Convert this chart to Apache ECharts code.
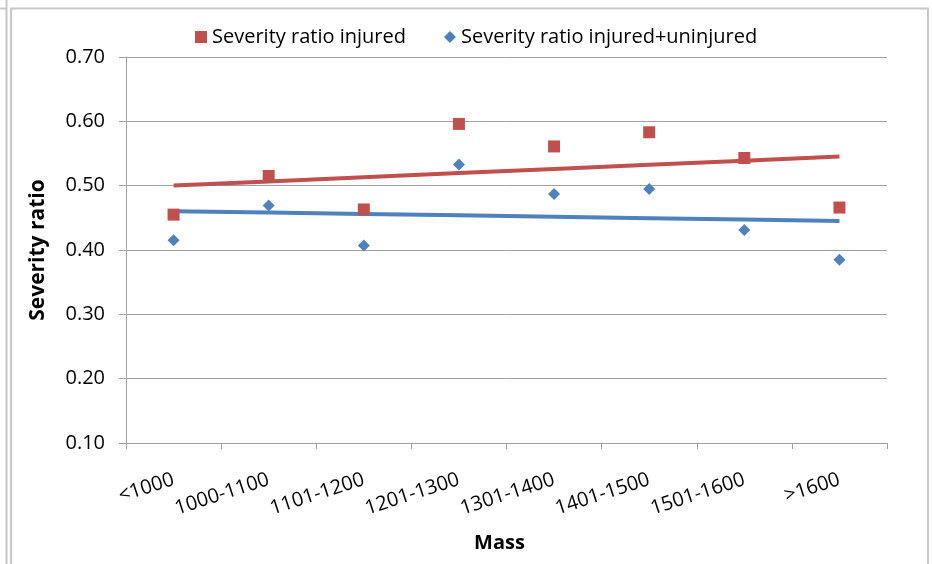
<!DOCTYPE html>
<html lang="en">
<head>
    <meta charset="UTF-8">
    <title>Severity ratio by mass</title>
    <style>
       html, body { margin: 0; padding: 0; background: #fff; }
       #main { width: 932px; height: 564px; }
    </style>
</head>
<body>
    <div id="main"></div>
    <script src="https://cdn.jsdelivr.net/npm/echarts@6/dist/echarts.min.js"></script>
    <script>
        var categories = ['<1000', '1000-1100', '1101-1200', '1201-1300', '1301-1400', '1401-1500', '1501-1600', '>1600'];
        var injured = [0.455, 0.515, 0.463, 0.596, 0.561, 0.583, 0.543, 0.466];
        var injuredUninjured = [0.415, 0.469, 0.407, 0.533, 0.487, 0.495, 0.431, 0.385];
        var yTicks = { min: 0.1, max: 0.7, step: 0.1 };

        // linear trend line (least squares over category index)
        function trend(vals) {
            var n = vals.length, mx = 0, my = 0, sxy = 0, sxx = 0;
            for (var i = 0; i < n; i++) { mx += i; my += vals[i]; }
            mx /= n; my /= n;
            for (var j = 0; j < n; j++) {
                sxy += (j - mx) * (vals[j] - my);
                sxx += (j - mx) * (j - mx);
            }
            var b = sxy / sxx;
            return vals.map(function (v, k) { return my + b * (k - mx); });
        }

        var font = '"Open Sans", "Liberation Sans", sans-serif';
        var red = '#C0504D', blue = '#4F81BD', gray = '#a0a0a0';

        var myChart = echarts.init(document.getElementById('main'));
        var option = {
            animation: false,
            textStyle: { fontFamily: font, color: '#000' },
            graphic: [
                { type: 'line', shape: { x1: 6.5, y1: 0, x2: 6.5, y2: 564 }, style: { stroke: '#c8c8c8', lineWidth: 2 } },
                { type: 'line', shape: { x1: 0, y1: 8.5, x2: 6.5, y2: 8.5 }, style: { stroke: '#c8c8c8', lineWidth: 2 } },
                { type: 'rect', shape: { x: 11, y: 8.5, width: 917, height: 600 }, style: { fill: 'none', stroke: '#c8c8c8', lineWidth: 2 } }
            ],
            legend: {
                left: 190,
                top: 22,
                itemWidth: 12,
                itemHeight: 12,
                itemGap: 38,
                textStyle: { fontFamily: font, fontSize: 20, color: '#000' },
                data: [
                    { name: 'Severity ratio injured', icon: 'rect' },
                    { name: 'Severity ratio injured+uninjured', icon: 'diamond' }
                ]
            },
            grid: {
                left: 126,
                right: 45,
                top: 57,
                bottom: 121,
                containLabel: false
            },
            xAxis: {
                type: 'category',
                data: categories,
                boundaryGap: true,
                name: 'Mass',
                nameLocation: 'middle',
                nameGap: 90,
                nameTextStyle: { fontFamily: font, fontSize: 20, fontWeight: 'bold', color: '#000', padding: [0, 14, 0, 0] },
                axisLine: { lineStyle: { color: gray, width: 1 } },
                axisTick: { show: true, length: 6, lineStyle: { color: gray } },
                axisLabel: {
                    rotate: 18,
                    margin: 36,
                    fontFamily: font,
                    fontSize: 20,
                    color: '#000'
                },
                splitLine: { show: false }
            },
            yAxis: {
                type: 'value',
                min: yTicks.min,
                max: yTicks.max,
                interval: yTicks.step,
                name: 'Severity ratio',
                nameLocation: 'middle',
                nameRotate: 90,
                nameGap: 77,
                nameTextStyle: { fontFamily: font, fontSize: 21, fontWeight: 'bold', color: '#000' },
                axisLine: { show: true, lineStyle: { color: gray, width: 1 } },
                axisTick: { show: true, length: 7, lineStyle: { color: gray } },
                axisLabel: {
                    margin: 21,
                    fontFamily: font,
                    fontSize: 20,
                    color: '#000',
                    formatter: function (v) { return v.toFixed(2); }
                },
                splitLine: { show: true, lineStyle: { color: gray, width: 1 } }
            },
            series: [
                {
                    name: 'Severity ratio injured',
                    type: 'scatter',
                    symbol: 'rect',
                    symbolSize: 12,
                    itemStyle: { color: red, opacity: 1 },
                    data: injured,
                    z: 3
                },
                {
                    name: 'Severity ratio injured+uninjured',
                    type: 'scatter',
                    symbol: 'diamond',
                    symbolSize: 12,
                    itemStyle: { color: blue, opacity: 1 },
                    data: injuredUninjured,
                    z: 3
                },
                {
                    name: 'trend injured',
                    type: 'line',
                    showSymbol: false,
                    symbol: 'none',
                    silent: true,
                    lineStyle: { color: red, width: 4 },
                    data: trend(injured),
                    z: 2
                },
                {
                    name: 'trend injured+uninjured',
                    type: 'line',
                    showSymbol: false,
                    symbol: 'none',
                    silent: true,
                    lineStyle: { color: blue, width: 4 },
                    data: trend(injuredUninjured),
                    z: 2
                }
            ]
        };
        myChart.setOption(option);
    </script>
</body>
</html>
